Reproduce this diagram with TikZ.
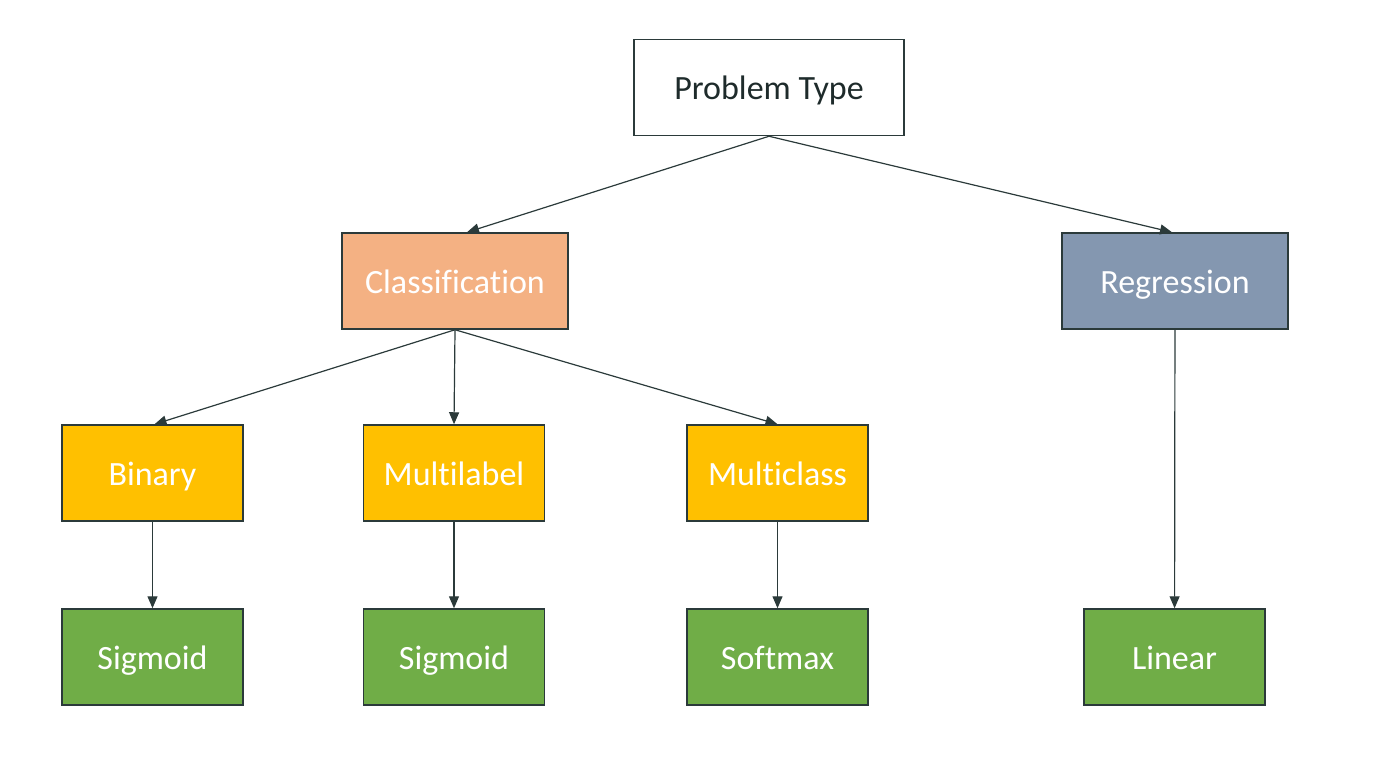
\documentclass[tikz,border=0pt]{standalone}
\usepackage{fontspec}
\setmainfont{Carlito}[Ligatures=CommonOff]
\usetikzlibrary{arrows.meta}
\definecolor{edge}{HTML}{2B3A3A}
\definecolor{cls}{HTML}{F4B183}
\definecolor{reg}{HTML}{8497B0}
\definecolor{yel}{HTML}{FFC000}
\definecolor{grn}{HTML}{70AD47}
\definecolor{dtext}{HTML}{1E2B2B}
\begin{document}
\begin{tikzpicture}[x=0.5pt,y=-0.5pt,
  box/.style={draw=edge,line width=0.75pt,minimum width=#1,minimum height=48pt,inner sep=0pt,text height=15pt,text depth=3pt,font=\fontsize{17}{20}\selectfont,text=white},
  box/.default=90.5pt,
  conn/.style={draw=edge,line width=0.6pt,-{Triangle[length=6pt,width=5pt]}}]
\useasboundingbox (0,0) rectangle (1400,771);
\node[box=135pt,fill=white,text=dtext] (pt) at (769,87.5) {Problem Type};
\node[box=113pt,fill=cls] (cl) at (455,281) {Classification};
\node[box=113pt,fill=reg] (rg) at (1175,281) {Regression};
\node[box,fill=yel] (bi) at (152.5,473) {Binary};
\node[box,fill=yel] (ml) at (454,473) {Multilabel};
\node[box,fill=yel] (mc) at (777.5,473) {Multiclass};
\node[box,fill=grn] (s1) at (152.5,657) {Sigmoid};
\node[box,fill=grn] (s2) at (454,657) {Sigmoid};
\node[box,fill=grn] (sm) at (777.5,657) {Softmax};
\node[box,fill=grn] (li) at (1174.5,657) {Linear};
\draw[conn] (pt.south) -- ([xshift=6pt]cl.north);
\draw[conn] (pt.south) -- ([xshift=-1.5pt]rg.north);
\draw[conn] (cl.south) -- ([xshift=1pt]bi.north);
\draw[conn] (cl.south) -- (ml.north);
\draw[conn] (cl.south) -- (mc.north);
\draw[conn] (bi) -- (s1);
\draw[conn] (ml) -- (s2);
\draw[conn] (mc) -- (sm);
\draw[conn] (rg) -- (li);
\end{tikzpicture}
\end{document}
